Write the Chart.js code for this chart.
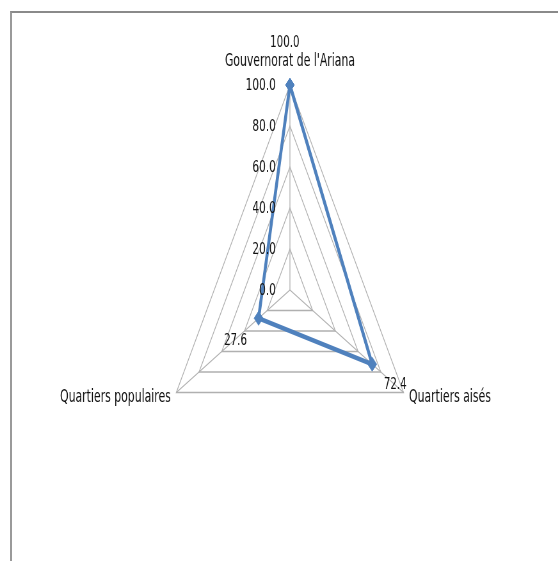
<!DOCTYPE html>
<html>
<head>
<meta charset="utf-8">
<script src="https://cdn.jsdelivr.net/npm/chart.js@4/dist/chart.umd.min.js"></script>
<style>
  html, body { margin: 0; padding: 0; background: #fff; overflow: hidden; width: 558px; height: 561px; }
  #frame { position: absolute; left: 10px; top: 11px; width: 700px; height: 700px;
           border-top: 2px solid #8a8a8a; border-left: 2px solid #9a9a9a; }
  /* the plot is drawn wide and compressed horizontally */
  #wrap { position: absolute; left: 0; top: 0; width: 872px; height: 561px;
          transform: scaleX(0.64); transform-origin: 0 0; }
  canvas { display: block; }
</style>
</head>
<body>
<div id="frame"></div>
<div id="wrap"><canvas id="c" width="872" height="561"></canvas></div>
<script>
const categories = ["Gouvernorat de l'Ariana", "Quartiers aisés", "Quartiers populaires"];
const values = [100.0, 72.4, 27.6];
const axisMin = 0;
const axisMax = 100;
const axisStep = 20;

const BLUE = '#4F81BD';
const TEXT = '#111111';
const FONT = '"DejaVu Sans", sans-serif';

// Writes tick values, category names and value labels on the radar
const radarText = {
  id: 'radarText',
  afterDatasetsDraw(chart) {
    const ctx = chart.ctx;
    const r = chart.scales.r;
    ctx.save();
    ctx.fillStyle = TEXT;

    // tick labels, right-aligned to the left of the vertical spoke
    ctx.font = '16.5px ' + FONT;
    ctx.textAlign = 'right';
    ctx.textBaseline = 'middle';
    r.ticks.forEach(t => {
      const d = r.getDistanceFromCenterForValue(t.value);
      ctx.fillText(t.label, r.xCenter - 22, r.yCenter - d + 1);
    });

    // category names at the outer vertices
    ctx.font = '17px ' + FONT;
    const outer = r.drawingArea;
    categories.forEach((name, i) => {
      const p = r.getPointPosition(i, outer);
      if (i === 0) {
        ctx.textAlign = 'center';
        ctx.fillText(name, p.x, p.y - 23);
      } else if (i === 1) {
        ctx.textAlign = 'left';
        ctx.fillText(name, p.x + 8.5, p.y + 5);
      } else {
        ctx.textAlign = 'right';
        ctx.fillText(name, p.x - 8.5, p.y + 5);
      }
    });

    // value labels next to each point
    const meta = chart.getDatasetMeta(0);
    const offsets = [[-8, -42], [36, 21], [-36, 23]];
    ctx.textAlign = 'center';
    ctx.font = '16px ' + FONT;
    meta.data.forEach((pt, i) => {
      const v = chart.data.datasets[0].data[i];
      ctx.fillText(v.toFixed(1), pt.x + offsets[i][0], pt.y + offsets[i][1]);
    });
    ctx.restore();
  }
};

new Chart(document.getElementById('c'), {
  type: 'radar',
  data: {
    labels: categories,
    datasets: [{
      data: values,
      borderColor: BLUE,
      backgroundColor: BLUE,
      borderWidth: 4.6,
      fill: false,
      tension: 0,
      pointStyle: 'rectRot',
      pointRadius: 7,
      pointBackgroundColor: BLUE,
      pointBorderColor: BLUE,
      pointBorderWidth: 1
    }]
  },
  options: {
    responsive: false,
    animation: false,
    events: [],
    devicePixelRatio: 1,
    layout: { padding: { left: 248, right: 214, top: 85, bottom: 66 } },
    plugins: { legend: { display: false }, tooltip: { enabled: false } },
    scales: {
      r: {
        min: axisMin,
        max: axisMax,
        ticks: { stepSize: axisStep, display: false, callback: v => v.toFixed(1) },
        pointLabels: { display: false },
        grid: { color: '#b0b0b0', lineWidth: 1.3 },
        angleLines: { color: '#b0b0b0', lineWidth: 1.3 }
      }
    }
  },
  plugins: [radarText]
});
</script>
</body>
</html>
